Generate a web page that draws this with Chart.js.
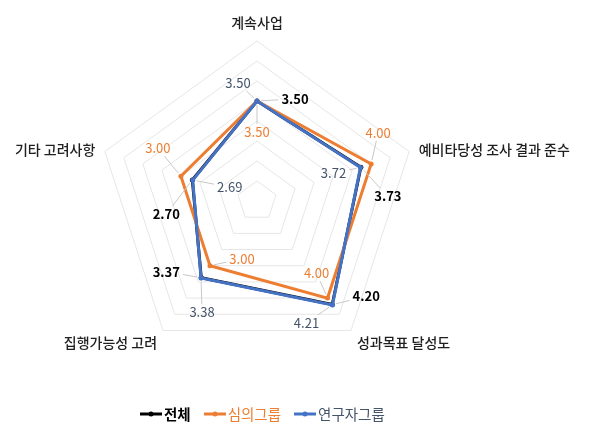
<!DOCTYPE html>
<html lang="ko">
<head>
<meta charset="utf-8">
<title>레이더 차트</title>
<script src="https://cdn.jsdelivr.net/npm/chart.js@4.4.0/dist/chart.umd.min.js"></script>
<style>
  body { margin: 0; background: #fff; }
  #wrap { position: relative; width: 609px; height: 437px; }
  #legend {
    position: absolute; left: 140px; top: 403px;
    display: flex; align-items: center;
    font: 14.5px "Noto Sans CJK KR", sans-serif;
  }
  .item { display: flex; align-items: center; margin-right: 13px; }
  .item svg { margin-right: 2px; }
</style>
</head>
<body>
<div id="wrap">
  <canvas id="grafico_radar"></canvas>
  <div id="legend"></div>
</div>
<script>
// dados
const labels = ['계속사업', '예비타당성 조사 결과 준수', '성과목표 달성도', '집행가능성 고려', '기타 고려사항']
const seriesNames = ['전체', '심의그룹', '연구자그룹']
const totalValues = [3.50, 3.73, 4.20, 3.37, 2.70]
const reviewValues = [3.50, 4.00, 4.00, 3.00, 3.00]
const researcherValues = [3.50, 3.72, 4.21, 3.38, 2.69]
const scaleMin = 1
const scaleMax = 5
const scaleStep = 0.5

// estilo
const colors = ['#000000', '#ED7D31', '#4472C4']
const textColors = ['#000000', '#ED7D31', '#44546A']
const textWeights = ['bold', 'normal', 'normal']
// where each value label sits, relative to its point (dx, dy)
const labelOffsets = [
  [[38, -2], [27, 29], [34, -8], [-35, -6], [-26, 34]],
  [[0, 31], [7, -31], [-11, -25], [32, -7], [-23, -28]],
  [[-19, -18], [-27, 6], [-26, 18], [1, 34], [37, 7]]
]

const FONT = '"Noto Sans CJK KR", sans-serif'

// category names around the web, placed like the excel chart
const pointLabelPlugin = {
  id: 'pointLabelPlugin',
  afterDraw(chart) {
    const scale = chart.scales.r
    const ctx = chart.ctx
    ctx.save()
    ctx.font = `500 14px ${FONT}`
    ctx.fillStyle = '#1f1f1f'
    ctx.textBaseline = 'middle'
    labels.forEach((text, i) => {
      const p = scale.getPointPosition(i, scale.drawingArea + 10)
      const a = scale.getIndexAngle(i)
      const sx = Math.sin(a), cy = Math.cos(a)
      ctx.textAlign = Math.abs(sx) < 0.1 ? 'center' : (sx > 0 ? 'left' : 'right')
      let y = p.y
      if (cy > 0.9) y -= 8
      else if (cy > 0) y += 1
      else y += 4
      ctx.fillText(text, p.x, y)
    })
    ctx.restore()
  }
}

// value labels with leader lines
const valueLabelPlugin = {
  id: 'valueLabelPlugin',
  afterDatasetsDraw(chart) {
    const ctx = chart.ctx
    chart.data.datasets.forEach((ds, i) => {
      const meta = chart.getDatasetMeta(i)
      ctx.save()
      ctx.font = `${textWeights[i]} 13px ${FONT}`
      ctx.textAlign = 'center'
      ctx.textBaseline = 'middle'
      meta.data.forEach((pt, j) => {
        const [dx, dy] = labelOffsets[i][j]
        const lx = pt.x + dx
        const ly = pt.y + dy
        const text = ds.data[j].toFixed(2)
        const w = ctx.measureText(text).width
        const s = Math.max(Math.abs(dx) / (w / 2 + 3), Math.abs(dy) / 8)
        if (s > 1.3) {
          const len = Math.hypot(dx, dy)
          ctx.strokeStyle = '#c8c8c8'
          ctx.lineWidth = 1
          ctx.beginPath()
          ctx.moveTo(pt.x + dx / len * 4, pt.y + dy / len * 4)
          ctx.lineTo(lx - dx / s, ly - dy / s)
          ctx.stroke()
        }
        ctx.fillStyle = textColors[i]
        ctx.fillText(text, lx, ly)
      })
      ctx.restore()
    })
  }
}

const seriesValues = [totalValues, reviewValues, researcherValues]

const data = {
  labels,
  datasets: seriesNames.map((name, i) => ({
    label: name,
    data: seriesValues[i],
    borderColor: colors[i],
    backgroundColor: colors[i],
    pointBackgroundColor: colors[i],
    pointBorderColor: colors[i],
    borderWidth: 3,
    pointRadius: 2.5,
    pointBorderWidth: 0,
    fill: false,
    order: seriesNames.length - i
  }))
}

const config = {
  type: 'radar',
  data,
  options: {
    responsive: true,
    maintainAspectRatio: false,
    animation: false,
    layout: { padding: { left: 97, top: 41, right: 192, bottom: 76 } },
    plugins: {
      legend: { display: false },
      tooltip: { enabled: false }
    },
    scales: {
      r: {
        min: scaleMin,
        max: scaleMax,
        ticks: { stepSize: scaleStep, display: false },
        grid: { color: '#e6e6e6', lineWidth: 1 },
        angleLines: { display: false },
        pointLabels: { display: false }
      }
    }
  },
  plugins: [pointLabelPlugin, valueLabelPlugin]
}

const graph = new Chart(document.getElementById('grafico_radar'), config)

// legenda em html
const legend = document.getElementById('legend')
seriesNames.forEach((name, i) => {
  const item = document.createElement('div')
  item.className = 'item'
  item.innerHTML =
    `<svg width="22" height="8"><line x1="0" y1="4" x2="22" y2="4" stroke="${colors[i]}" stroke-width="3"/>` +
    `<circle cx="11" cy="4" r="2.5" fill="${colors[i]}"/></svg>` +
    `<span style="color:${textColors[i]};font-weight:${textWeights[i]}">${name}</span>`
  legend.appendChild(item)
})
</script>
</body>
</html>
